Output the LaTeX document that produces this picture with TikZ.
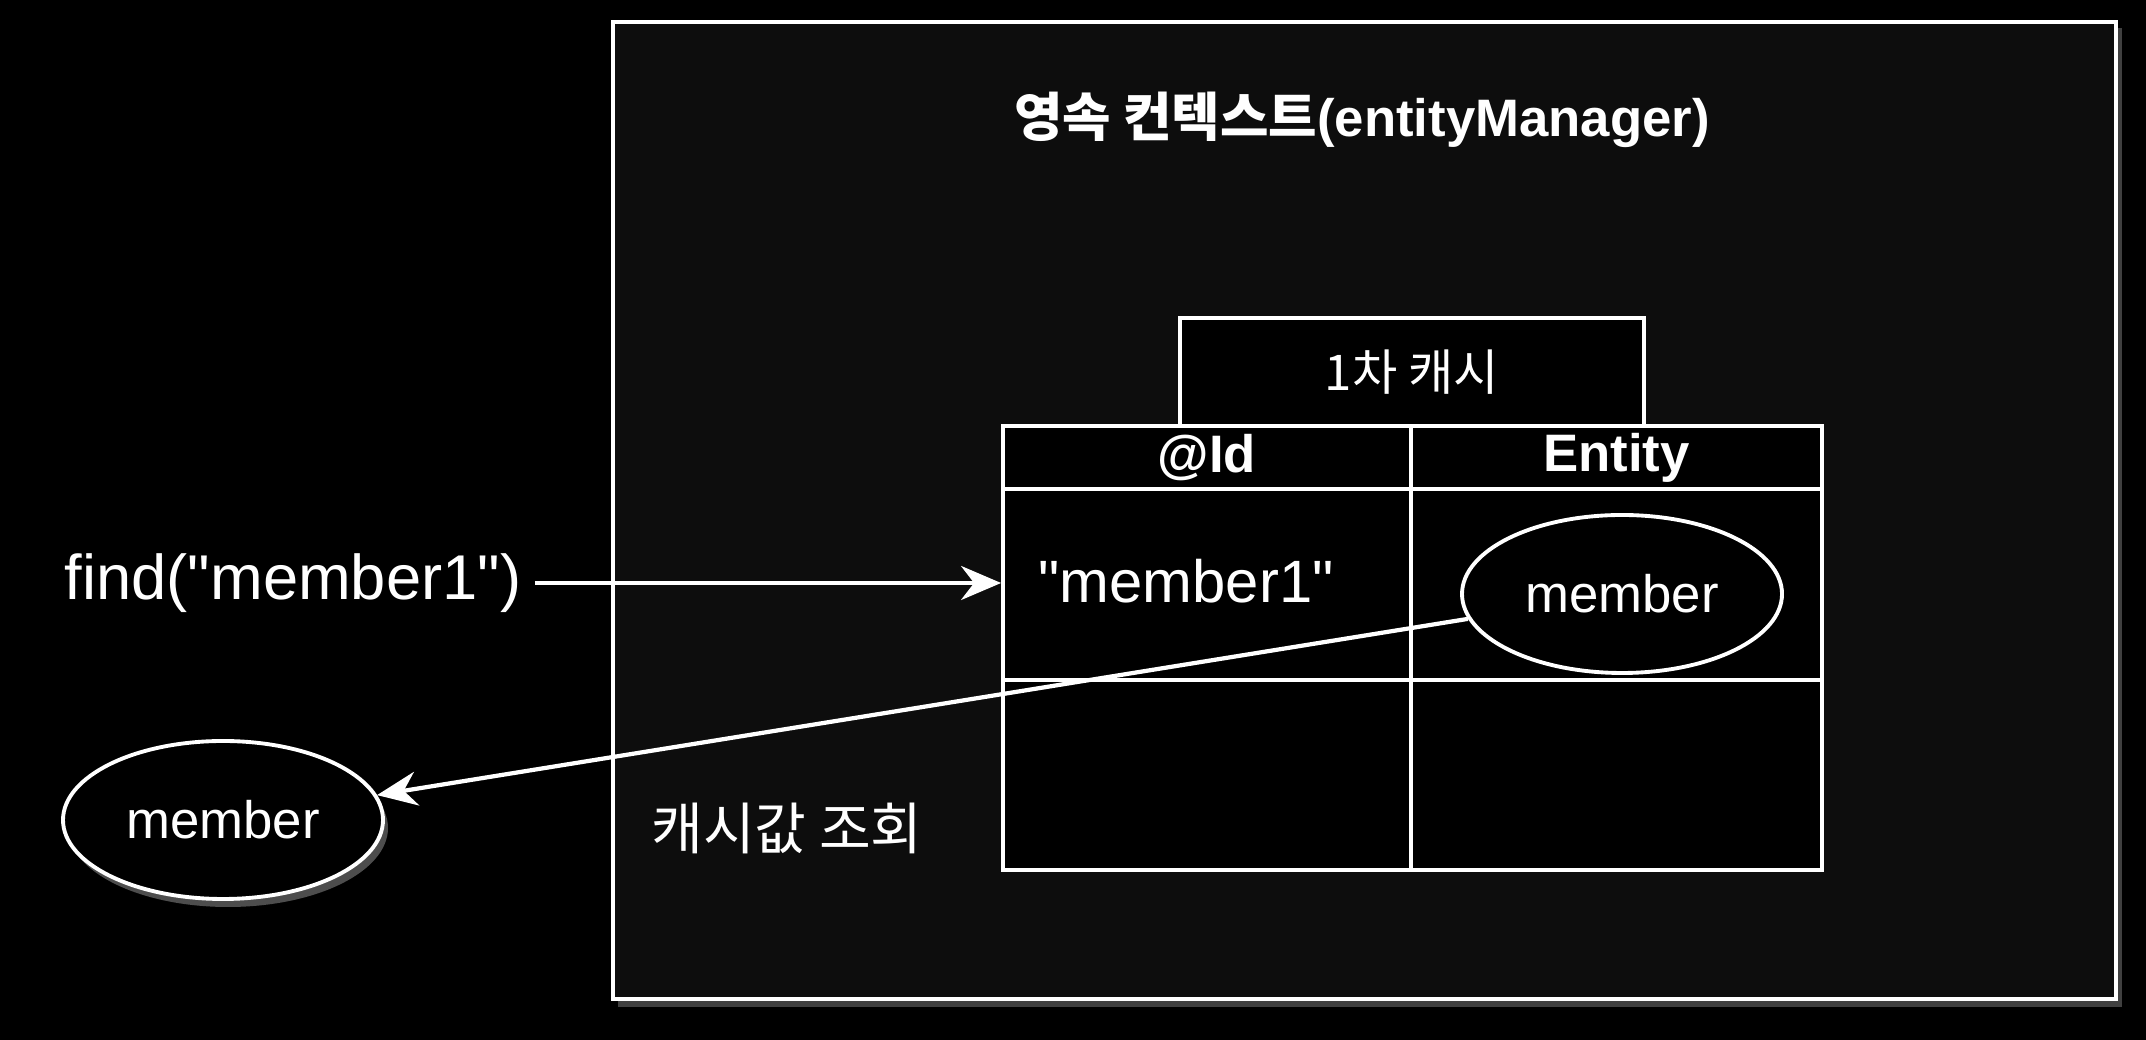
\documentclass[tikz,border=0pt]{standalone}
\usepackage{fontspec}
\setmainfont{Liberation Sans}[Ligatures=TeXOff]
\newfontfamily\kr{Noto Sans CJK KR}
\usetikzlibrary{arrows.meta,shapes.geometric,positioning,shadows}

\begin{document}
\begin{tikzpicture}[white, line width=1.1pt,
    cell/.style={draw=white, fill=black, inner sep=0pt},
    obj/.style={draw=white, fill=black, ellipse, minimum width=3.2cm, minimum height=1.58cm,
                font=\fontsize{15}{18}\selectfont},
    arr/.style={-{Stealth[length=4mm,width=3.4mm,inset=1.3mm]}, line width=1.2pt}]
    % Canvas
    \fill[black] (0,0) rectangle (21.46,10.40);
    \useasboundingbox (0,0) rectangle (21.46,10.40);

    % Persistence context
    \fill[white, opacity=0.25] (6.18,0.33) rectangle (21.22,10.12);
    \draw[fill=black!95!white] (6.13,0.41) rectangle (21.16,10.18);
    \node[font=\bfseries\fontsize{15}{18}\selectfont] (title) at (13.62,9.20)
        {{\kr 영속 컨텍스트}(entityManager)};

    % First level cache table
    \node[cell, minimum width=4.64cm, minimum height=1.08cm, font=\kr\fontsize{14}{17}\selectfont]
        (cache) at (14.12,6.68) {1차 캐시};
    \node[cell, minimum width=4.08cm, minimum height=0.63cm, font=\bfseries\fontsize{15}{18}\selectfont]
        (hid) at (12.07,5.825) {@Id};
    \node[cell, minimum width=4.11cm, minimum height=0.63cm, font=\bfseries\fontsize{15}{18}\selectfont]
        (hent) at (16.165,5.825) {Entity};
    \node[cell, minimum width=4.08cm, minimum height=1.91cm] (key) at (12.07,4.555) {};
    \node[cell, minimum width=4.11cm, minimum height=1.91cm] (val) at (16.165,4.555) {};
    \node[cell, minimum width=4.08cm, minimum height=1.90cm] (key2) at (12.07,2.65) {};
    \node[cell, minimum width=4.11cm, minimum height=1.90cm] (val2) at (16.165,2.65) {};
    \node[anchor=west, font=\fontsize{17}{20}\selectfont] (keytext)
        at ([xshift=2.4mm, yshift=0.3mm]key.west) {"member1"};
    \node[obj] (cached) at (16.22,4.46) {member};

    % Lookup
    \node[font=\fontsize{18}{22}\selectfont] (find) at (2.93,4.57) {find("member1")};
    \draw[arr] (find.east) -- (find.east -| key.west);

    % Result
    \node[obj, drop shadow={shadow xshift=0.5mm, shadow yshift=-0.8mm, fill=white, opacity=0.3}]
        (result) at (2.23,2.20) {member};
    \draw[arr] (cached) -- (result);
    \node[font=\kr\fontsize{16}{19}\selectfont] (lookup) at (7.87,2.12) {캐시값 조회};
\end{tikzpicture}
\end{document}
